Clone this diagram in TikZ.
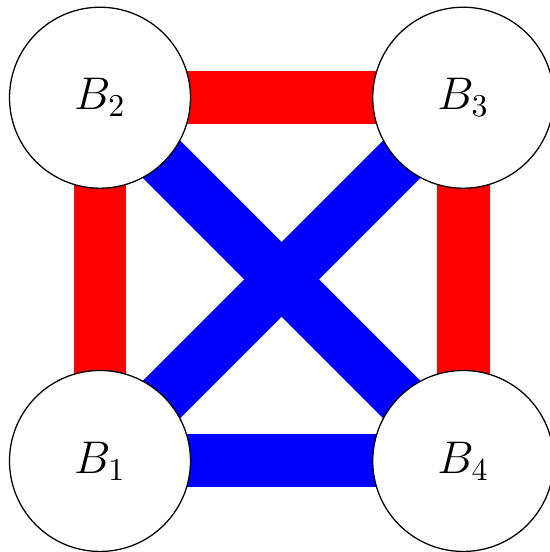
\documentclass[tikz,border=0pt]{standalone}
\usepackage{amsmath,amssymb}
\usepackage{xcolor}
\usetikzlibrary{positioning,backgrounds}

\tikzset{
  bnode/.style={circle, draw, fill=white, minimum size=2cm, inner sep=0pt, font=\Large},
  redlink/.style={red, line width=0.585cm},
  bluelink/.style={blue, line width=0.585cm}
}

\begin{document}
\begin{tikzpicture}
\useasboundingbox (-1.105,-1.006) rectangle (4.972,5.094);

% the four nodes
\node[bnode] (B1) at (0,0) {$B_1$};
\node[bnode, above=2cm of B1] (B2) {$B_2$};
\node[bnode, right=2cm of B2] (B3) {$B_3$};
\node[bnode, right=2cm of B1] (B4) {$B_4$};

% thick links behind the nodes
\begin{scope}[on background layer]
\draw[redlink] (B1.center) -- (B2.center);
\draw[redlink] (B2.center) -- (B3.center);
\draw[redlink] (B3.center) -- (B4.center);
\draw[bluelink] (B1.center) -- (B4.center);
\draw[bluelink] (B1.center) -- (B3.center);
\draw[bluelink] (B2.center) -- (B4.center);
\end{scope}
\end{tikzpicture}
\end{document}
